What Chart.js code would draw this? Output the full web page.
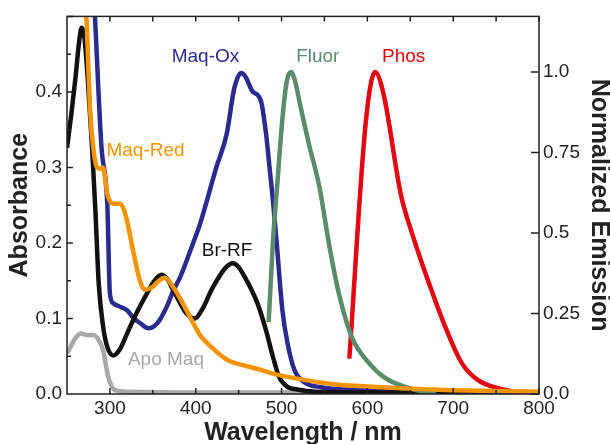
<!DOCTYPE html>
<html>
<head>
<meta charset="utf-8">
<script src="https://cdn.jsdelivr.net/npm/chart.js@4/dist/chart.umd.min.js"></script>
<style>
  html, body { margin: 0; padding: 0; background: #fff; }
  #wrap { width: 610px; height: 444px; }
</style>
</head>
<body>
<div id="wrap"><canvas id="spectra" width="610" height="444"></canvas></div>
<script>
// Br-RF absorbance
const brWl  = [250, 255, 260, 264, 267, 270, 274, 279, 283, 287, 292, 297, 304, 312, 320, 330, 343, 352, 360, 367, 374, 382, 389, 399, 408, 418, 426, 434, 443, 450, 457, 465, 472, 482, 490, 497, 507, 518, 540, 600, 700, 800];
const brAbs = [0.326, 0.37, 0.42, 0.465, 0.485, 0.475, 0.42, 0.331, 0.245, 0.146, 0.09, 0.062, 0.051, 0.06, 0.08, 0.105, 0.133, 0.150, 0.158, 0.152, 0.137, 0.12, 0.107, 0.100, 0.113, 0.137, 0.153, 0.166, 0.173, 0.168, 0.155, 0.138, 0.12, 0.084, 0.049, 0.023, 0.0095, 0.006, 0.003, 0.002, 0.002, 0.002];

// Maq-Ox absorbance
const oxWl  = [280, 283, 290, 297, 300, 304, 313, 320, 328, 335, 345, 352, 358, 366, 374, 382, 397, 405, 424, 436, 445, 453, 458, 466, 476, 482, 486, 490, 494, 501, 507, 515, 526, 546, 600, 650, 700, 800];
const oxAbs = [0.56, 0.49, 0.33, 0.25, 0.133, 0.12, 0.115, 0.111, 0.10, 0.094, 0.087, 0.09, 0.098, 0.115, 0.137, 0.155, 0.20, 0.225, 0.30, 0.344, 0.405, 0.425, 0.42, 0.401, 0.388, 0.344, 0.30, 0.256, 0.205, 0.111, 0.067, 0.032, 0.016, 0.009, 0.005, 0.004, 0.002, 0.001];

// Maq-Red absorbance
const redWl  = [270, 273, 277, 281, 285, 289, 292, 297, 304, 312, 318, 327, 335, 341, 350, 357, 364, 374, 385, 397, 405, 418, 437, 459, 476, 490, 515, 561, 600, 650, 700, 750, 800];
const redAbs = [0.56, 0.49, 0.375, 0.322, 0.30, 0.298, 0.30, 0.265, 0.252, 0.252, 0.238, 0.19, 0.15, 0.138, 0.142, 0.15, 0.154, 0.141, 0.12, 0.094, 0.078, 0.0625, 0.045, 0.037, 0.032, 0.027, 0.021, 0.013, 0.010, 0.007, 0.005, 0.004, 0.003];

// Apo Maq absorbance
const apoWl  = [250, 254, 258, 262, 266, 270, 274, 281, 287, 292, 298, 306, 320, 400, 500, 560];
const apoAbs = [0.054, 0.062, 0.071, 0.077, 0.080, 0.079, 0.078, 0.078, 0.071, 0.058, 0.023, 0.005, 0.003, 0.002, 0.002, 0.002];

// Fluor emission (normalized)
const fluWl = [485, 490, 495, 501, 506, 511, 516, 521, 532, 544, 556, 567, 582, 602, 621, 644, 667, 680];
const fluEm = [0.223, 0.475, 0.65, 0.855, 0.97, 1.0, 0.97, 0.907, 0.775, 0.645, 0.455, 0.31, 0.176, 0.096, 0.049, 0.022, 0.006, 0.002];

// Phos emission (normalized)
const phoWl = [579, 598, 609, 619, 639, 652, 671, 691, 710, 729, 752, 775, 800];
const phoEm = [0.11, 0.84, 1.0, 0.93, 0.62, 0.50, 0.35, 0.207, 0.096, 0.043, 0.018, 0.006, 0.002];

// axis ticks
const xTicks = [300, 400, 500, 600, 700, 800];
const absTicks = [0.0, 0.1, 0.2, 0.3, 0.4];
const emTicks = [0, 0.25, 0.5, 0.75, 1.0];
const emTickLabels = ['0.0', '0.25', '0.5', '0.75', '1.0'];

const FONT = '"Liberation Sans", Arial, Helvetica, sans-serif';
const INK = '#222';

const toXY = (xs, ys) => xs.map((x, i) => ({ x: x, y: ys[i] }));

function line(label, xs, ys, color, axis) {
    return {
        label: label,
        data: toXY(xs, ys),
        borderColor: color,
        backgroundColor: color,
        borderWidth: 4.5,
        pointRadius: 0,
        fill: false,
        cubicInterpolationMode: 'monotone',
        yAxisID: axis
    };
}

// curve names written on the plot
const curveLabels = [
    { text: 'Maq-Ox',  wl: 372, abs: 0.446, color: '#2c2a8e' },
    { text: 'Fluor',   wl: 517, abs: 0.446, color: '#5b8a6c' },
    { text: 'Phos',    wl: 617, abs: 0.446, color: '#e30613' },
    { text: 'Maq-Red', wl: 296, abs: 0.322, color: '#f39400' },
    { text: 'Br-RF',   wl: 407, abs: 0.190, color: '#111111' },
    { text: 'Apo Maq', wl: 321, abs: 0.045, color: '#a8a8a8' }
];

const frame = {
    id: 'frame',
    afterDatasetsDraw(chart) {
        const { ctx, chartArea: a, scales } = chart;
        const x = scales.x, y = scales.y, y2 = scales.y2;
        ctx.save();
        ctx.strokeStyle = INK;
        ctx.lineWidth = 1.5;
        ctx.strokeRect(a.left, a.top, a.right - a.left, a.bottom - a.top);
        ctx.beginPath();
        // bottom + top ticks, every 50 nm
        for (let v = 300; v <= 800; v += 50) {
            const px = x.getPixelForValue(v);
            const len = v % 100 === 0 ? 6 : 4;
            ctx.moveTo(px, a.bottom); ctx.lineTo(px, a.bottom - len);
            ctx.moveTo(px, a.top); ctx.lineTo(px, a.top + 5);
        }
        // left ticks
        for (let v = 0.05; v < 0.5; v += 0.05) {
            const py = y.getPixelForValue(v);
            const len = Math.round(v * 100) % 10 === 0 ? 6 : 4;
            ctx.moveTo(a.left, py); ctx.lineTo(a.left + len, py);
        }
        // right ticks
        emTicks.forEach(v => {
            const py = y2.getPixelForValue(v);
            ctx.moveTo(a.right, py); ctx.lineTo(a.right - 8, py);
        });
        ctx.stroke();

        ctx.font = '19px ' + FONT;
        ctx.textAlign = 'left';
        ctx.textBaseline = 'middle';
        curveLabels.forEach(l => {
            ctx.fillStyle = l.color;
            ctx.fillText(l.text, x.getPixelForValue(l.wl), y.getPixelForValue(l.abs));
        });
        ctx.restore();
    }
};

new Chart(document.getElementById('spectra').getContext('2d'), {
    type: 'line',
    data: {
        datasets: [
            line('Maq-Red', redWl, redAbs, '#f39400', 'y'),
            line('Fluor', fluWl, fluEm, '#5b8a6c', 'y2'),
            line('Phos', phoWl, phoEm, '#e30613', 'y2'),
            line('Br-RF', brWl, brAbs, '#111111', 'y'),
            line('Maq-Ox', oxWl, oxAbs, '#2c2a8e', 'y'),
            line('Apo Maq', apoWl, apoAbs, '#a8a8a8', 'y')
        ]
    },
    options: {
        responsive: false,
        animation: false,
        events: [],
        layout: { padding: { top: 14, left: 0, right: 0, bottom: 0 } },
        plugins: { legend: { display: false }, tooltip: { enabled: false } },
        scales: {
            x: {
                type: 'linear',
                position: 'bottom',
                min: 250,
                max: 800,
                afterBuildTicks: s => { s.ticks = xTicks.map(v => ({ value: v })); },
                afterFit: s => { s.height = 50; },
                grid: { display: false, drawTicks: false, tickLength: 0 },
                border: { display: false },
                ticks: { font: { family: FONT, size: 19 }, color: INK, padding: 3, maxRotation: 0 },
                title: { display: true, text: 'Wavelength / nm', color: INK,
                         font: { family: FONT, size: 25, weight: 'bold' }, padding: { top: 0, bottom: -4 } }
            },
            y: {
                position: 'left',
                min: 0,
                max: 0.5,
                afterBuildTicks: s => { s.ticks = absTicks.map(v => ({ value: v })); },
                afterFit: s => { s.width = 67; },
                grid: { display: false, drawTicks: false, tickLength: 0 },
                border: { display: false },
                ticks: { font: { family: FONT, size: 19 }, color: INK, padding: 5,
                         callback: v => v.toFixed(1) },
                title: { display: true, text: 'Absorbance', color: INK,
                         font: { family: FONT, size: 25, weight: 'bold' }, padding: { top: 5, bottom: 0 } }
            },
            y2: {
                position: 'right',
                min: 0,
                max: 1.173,
                afterBuildTicks: s => { s.ticks = emTicks.map(v => ({ value: v })); },
                afterFit: s => { s.width = 71; },
                grid: { display: false, drawTicks: false, tickLength: 0 },
                border: { display: false },
                ticks: { font: { family: FONT, size: 19 }, color: INK, padding: 4,
                         callback: (v, i) => emTickLabels[i] },
                title: { display: true, text: 'Normalized Emission', color: INK,
                         font: { family: FONT, size: 25, weight: 'bold' }, padding: { top: -4, bottom: 0 } }
            }
        }
    },
    plugins: [frame]
});
</script>
</body>
</html>
